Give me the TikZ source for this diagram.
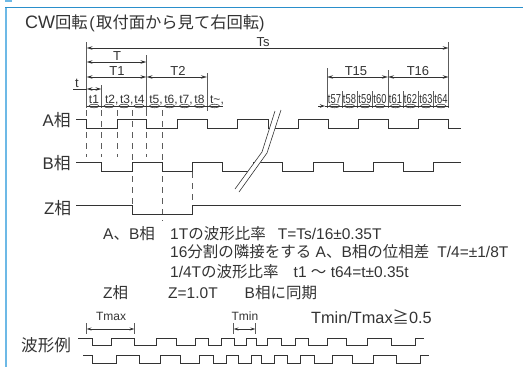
\documentclass[tikz,border=0pt]{standalone}
\usepackage{fontspec}
\setmainfont{Liberation Sans}
\newfontfamily\cjk{Noto Sans CJK JP}
\newcommand{\J}[1]{{\cjk #1}}
\usetikzlibrary{arrows.meta}
\definecolor{ink}{HTML}{333333}
\definecolor{frameblue}{HTML}{6DB9E6}
\definecolor{topblue}{HTML}{2A8FCB}
\tikzset{
  txt/.style={inner sep=0pt,anchor=base west,text=ink,font=\fontsize{15.5}{16}\selectfont},
  big/.style={txt,font=\fontsize{16.8}{17}\selectfont},
  lab/.style={inner sep=0pt,anchor=base,text=ink,font=\fontsize{13}{14}\selectfont},
  tlab/.style={inner sep=0pt,anchor=base,text=ink,font=\fontsize{12}{13}\selectfont},
  slab/.style={inner sep=0pt,anchor=base,text=ink,font=\fontsize{13}{14}\selectfont},
  mlab/.style={inner sep=0pt,anchor=base,text=ink,font=\fontsize{12}{13}\selectfont},
  sig/.style={draw=ink,line width=0.95pt},
  dim/.style={draw=ink,line width=0.6pt,{Stealth[length=6pt,width=3.5pt,open]}-{Stealth[length=6pt,width=3.5pt,open]}},
  dimsmall/.style={draw=ink,line width=0.5pt,{Stealth[length=5pt,width=3pt,open]}-{Stealth[length=5pt,width=3pt,open]}},
  tick/.style={draw=ink!80,line width=0.7pt},
  vdash/.style={draw=ink!80,line width=0.7pt,dash pattern=on 6pt off 5pt},
}
\begin{document}
\begin{tikzpicture}[x=1pt,y=-1pt]
\useasboundingbox (0,0) rectangle (523,367);
% frame
\fill[frameblue] (5,7) rectangle (7,367);
\fill[topblue] (5,6.5) rectangle (523,7.8);
\fill[frameblue] (5,0) rectangle (12,2);
% title
\node[txt,font=\fontsize{16.3}{17}\selectfont] (title) at (25,28) {{\fontsize{18}{18}\selectfont CW}\J{回転}\kern1.5pt(\kern1.5pt\J{取付面から見て右回転})};
% verticals and named ends
\coordinate (a0) at (86.5,42); \coordinate (a1) at (86.5,108);
\coordinate (b0) at (146.5,55); \coordinate (b1) at (146.5,111);
\coordinate (c0) at (207,73); \coordinate (c1) at (207,111);
\coordinate (d0) at (101.5,85); \coordinate (d1) at (101.5,108);
\coordinate (e0) at (327,68); \coordinate (e1) at (327,108);
\coordinate (f0) at (388,70); \coordinate (f1) at (388,108);
\coordinate (g0) at (448.7,42); \coordinate (g1) at (448.7,108);
\foreach \p/\q in {a0/a1,b0/b1,c0/c1,d0/d1,e0/e1,f0/f1,g0/g1} \draw[tick] (\p) -- (\q);
% dimensions
\draw[dim] (86.5,48) -- (448.7,48);
\draw[dim] (86.5,62) -- (146.5,62);
\draw[dim] (86.5,77) -- (146.5,77);
\draw[dim] (146.5,77) -- (207,77);
\draw[dim] (327,77) -- (388,77);
\draw[dim] (388,77) -- (448.7,77);
\draw[dim] (86.5,89) -- (101.5,89);
\draw[draw=ink,line width=0.6pt] (73,89) -- (86.5,89);
\node[lab] (ts) at (263,46) {Ts};
\node[lab] (tt) at (117,60) {T};
\node[lab] (t1l) at (117,75) {T1};
\node[lab] (t2l) at (178,75) {T2};
\node[lab] (t15) at (356,75) {T15};
\node[lab] (t16) at (418,75) {T16};
\node[lab] (tsm) at (77,87) {t};
% t cells
\node[tlab] (c1a) at (94,103) {t1};
\node[tlab] (c2a) at (111.7,103) {t2,};
\node[tlab] (c3a) at (126.7,103) {t3,};
\node[tlab] (c4a) at (139.5,103) {t4};
\node[tlab] (c5a) at (156,103) {t5,};
\node[tlab] (c6a) at (171,103) {t6,};
\node[tlab] (c7a) at (186,103) {t7,};
\node[tlab] (c8a) at (199.5,103) {t8};
\node[tlab] (c9a) at (217,103) {t\textasciitilde,};
\foreach \n/\x in {57/334.5,58/349.5,59/365,60/380,61/395.5,62/410.5,63/426,64/441}
  \node[slab,xscale=0.72] (c\n) at (\x,103) {t\n};
\foreach \x in {342,357.5,372.5,403,418.5,433.5} \draw[tick] (\x,91) -- (\x,108);
\draw[draw=ink,line width=0.8pt] (86.5,106) -- (222.5,106);
\draw[draw=ink,line width=0.8pt,-{Stealth[length=5pt,width=3.5pt,open]}] (318,106) -- (325,106);
\draw[draw=ink,line width=0.8pt] (325,106) -- (448.7,106);
\foreach \x in {94,109,124,139,154.5,169.5,184.5,199.5,214.5,334.5,349.5,365,380,395.5,410.5,426,441}
  \draw[ink,line width=0.55pt] (\x,106) ellipse (5pt and 1.8pt);
% dashed guides
\foreach \x/\u/\v in {86.5/110/157,101.5/110/157,117/110/157,132/110/205,146.5/110/157,162/110/221,192/172/205}
  \draw[vdash] (\x,\u) -- (\x,\v);
% signals
\draw[sig] (76,119) -| (86.5,128.5) -| (117,119) -| (146.5,128.5) -| (177,119) -| (207,128.5) -| (237.5,119) -| (268,128.5) -| (298,119) -| (328,128.5) -| (358,119) -| (388,128.5) -| (418,119) -| (448.5,128.5) -- (461,128.5);
\draw[sig] (76,162.5) -| (101.5,171.5) -| (132,162.5) -| (162,171.5) -| (192,162.5) -| (222.5,171.5) -| (253,162.5) -| (282.7,171.5) -| (313,162.5) -| (343,171.5) -| (373,162.5) -| (403,171.5) -| (433,162.5) -- (461,162.5);
\draw[sig] (76,205.5) -| (132.5,214.5) -| (192.5,205.5) -- (461,205.5);
% break mark
\fill[white] (275,111) -- (262,152) -- (235,189) -- (239,192) -- (267,153) -- (281,110) -- cycle;
\draw[draw=ink,line width=0.6pt] (275,111) -- (262,152) -- (235,189);
\draw[draw=ink,line width=0.6pt] (281,110) -- (267,153) -- (239,192);
% phase names
\node[big] (pa) at (42.5,126) {A\J{相}};
\node[big] (pb) at (42.5,169) {B\J{相}};
\node[big] (pz) at (44,214) {Z\J{相}};
% notes
\node[txt] (n1) at (103,239) {A\J{、}B\J{相}};
\node[txt] (n2) at (170,239) {1T\J{の波形比率}\hspace{12pt}T=Ts/16±0.35T};
\node[txt] (n3) at (170,257.5) {16\J{分割の隣接をする} A\J{、}B\J{相の位相差}\hspace{8pt}T/4=±1/8T};
\node[txt] (n4) at (170,277) {1/4T\J{の波形比率}\hspace{15pt}t1 \J{〜} t64=t±0.35t};
\node[txt] (n5) at (103,298) {Z\J{相}};
\node[txt] (n6) at (168,298) {Z=1.0T\hspace{27pt}B\J{相に同期}};
% example
\node[txt,font=\fontsize{16.6}{17}\selectfont] (ex) at (21,351) {\J{波形例}};
\node[mlab] (tmax) at (111,320) {Tmax};
\node[mlab] (tmin) at (245,320) {Tmin};
\node[txt,font=\fontsize{16.3}{17}\selectfont] (ratio) at (311,323) {Tmin/Tmax\J{≧}0.5};
\draw[tick] (86.5,323) -- (86.5,334); \draw[tick] (134.5,323) -- (134.5,334);
\draw[tick] (233.5,323) -- (233.5,334); \draw[tick] (255.5,323) -- (255.5,334);
\draw[dimsmall] (86.5,329) -- (134.5,329);
\draw[dimsmall] (233.5,329) -- (255.5,329);
\draw[sig] (78,338) -| (92,345) -| (111.7,338) -| (134,345) -| (156,338) -| (176.7,345) -| (195,338) -| (208,345) -| (221.7,338) -| (234,345) -| (246,338) -| (256.5,345) -| (267.7,338) -| (281,345) -| (295,338) -| (308,345) -| (327.7,338) -| (346.7,345) -| (367.7,338) -| (391.7,345) -| (415,338) -- (424,338);
\draw[sig] (83,355.5) -| (92.7,363) -| (116.7,355.5) -| (139,363) -| (160.7,355.5) -| (180,363) -| (199,355.5) -| (213,363) -| (226.7,355.5) -| (238.5,363) -| (251.7,355.5) -| (261.7,363) -| (274,355.5) -| (287,363) -| (300,355.5) -| (314,363) -| (332.7,355.5) -| (352,363) -| (373,355.5) -| (396.7,363) -| (420,355.5) -- (429,355.5);
\end{tikzpicture}
\end{document}
